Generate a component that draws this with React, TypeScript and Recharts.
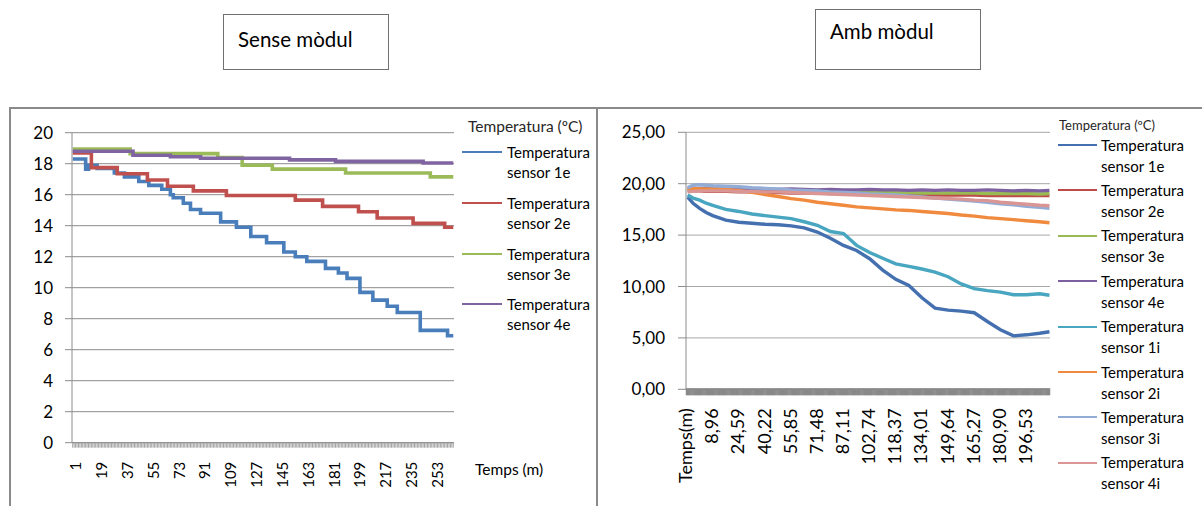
import React from "react";
import { LineChart, Line, XAxis, YAxis, CartesianGrid } from "recharts";

const FONT = "Lato, 'Open Sans', sans-serif";

// ---------- Sense mòdul: step readings as [sample, ºC] ----------
const sense1e: [number, number][] = [
  [1, 18.3], [10, 17.65], [12, 17.9], [18, 17.7], [30, 17.4], [37, 17.15],
  [47, 16.85], [54, 16.6], [63, 16.35], [69, 16.0], [71, 15.8], [78, 15.45],
  [83, 15.05], [90, 14.8], [104, 14.25], [115, 13.9], [125, 13.3], [136, 12.9],
  [148, 12.3], [156, 12.0], [164, 11.7], [177, 11.25], [186, 10.95], [192, 10.6],
  [201, 9.7], [210, 9.2], [220, 8.8], [227, 8.4], [243, 7.25], [262, 6.9], [266, 6.9],
];
const sense2e: [number, number][] = [
  [1, 18.7], [14, 17.75], [32, 17.35], [53, 16.95], [67, 16.55], [85, 16.25],
  [108, 15.95], [156, 15.65], [175, 15.25], [200, 14.9], [213, 14.5], [238, 14.15],
  [260, 13.9], [266, 13.9],
];
const sense3e: [number, number][] = [
  [1, 18.95], [41, 18.65], [102, 18.4], [119, 17.9], [140, 17.65], [191, 17.4],
  [250, 17.15], [266, 17.15],
];
const sense4e: [number, number][] = [
  [1, 18.8], [43, 18.55], [69, 18.45], [90, 18.35], [152, 18.25], [184, 18.15],
  [245, 18.05], [266, 18.05],
];
const senseSeries = [sense1e, sense2e, sense3e, sense4e];
const senseNames = [
  "Temperatura sensor 1e",
  "Temperatura sensor 2e",
  "Temperatura sensor 3e",
  "Temperatura sensor 4e",
];
const senseColors = ["#4a7ebb", "#c0504d", "#9bbb59", "#8064a2"];
const senseYTicks = [0, 2, 4, 6, 8, 10, 12, 14, 16, 18, 20];
const senseXLabels = [1, 19, 37, 55, 73, 91, 109, 127, 145, 163, 181, 199, 217, 235, 253];
const senseCount = 266;

// ---------- Amb mòdul: readings at sample indexes ----------
const ambSamples = [1, 6, 12, 18, 24, 36, 48, 60, 72, 84, 96, 108, 120, 132, 144, 156, 168, 180, 192, 204, 216, 228, 240, 252, 264, 276, 288, 300, 312, 324, 333];
const amb1e = [18.7, 18.1, 17.6, 17.2, 16.9, 16.45, 16.25, 16.15, 16.05, 16.0, 15.9, 15.7, 15.3, 14.7, 14.0, 13.5, 12.7, 11.6, 10.7, 10.1, 8.9, 7.9, 7.7, 7.6, 7.45, 6.6, 5.8, 5.2, 5.3, 5.45, 5.6];
const amb2e = [19.3, 19.3, 19.3, 19.25, 19.25, 19.25, 19.2, 19.2, 19.15, 19.15, 19.1, 19.1, 19.1, 19.05, 19.05, 19.0, 19.0, 19.0, 18.95, 18.95, 18.95, 18.9, 18.9, 18.9, 18.9, 18.85, 18.85, 18.85, 18.85, 18.85, 18.85];
const amb3e = [19.35, 19.4, 19.4, 19.35, 19.35, 19.35, 19.3, 19.3, 19.3, 19.25, 19.25, 19.25, 19.2, 19.2, 19.2, 19.2, 19.15, 19.15, 19.15, 19.15, 19.1, 19.1, 19.1, 19.1, 19.1, 19.05, 19.05, 19.05, 19.05, 19.0, 19.05];
const amb4e = [19.5, 19.55, 19.5, 19.55, 19.5, 19.5, 19.45, 19.5, 19.45, 19.45, 19.5, 19.45, 19.4, 19.45, 19.4, 19.4, 19.45, 19.4, 19.4, 19.35, 19.4, 19.35, 19.4, 19.35, 19.35, 19.4, 19.35, 19.3, 19.35, 19.3, 19.35];
const amb1i = [18.9, 18.6, 18.4, 18.1, 17.9, 17.5, 17.3, 17.05, 16.9, 16.75, 16.6, 16.3, 15.95, 15.35, 15.15, 14.0, 13.3, 12.75, 12.2, 11.95, 11.7, 11.4, 10.95, 10.25, 9.8, 9.6, 9.45, 9.2, 9.2, 9.3, 9.15];
const amb2i = [19.55, 19.55, 19.5, 19.5, 19.5, 19.45, 19.35, 19.15, 18.95, 18.75, 18.55, 18.4, 18.2, 18.05, 17.9, 17.75, 17.65, 17.55, 17.45, 17.4, 17.3, 17.2, 17.1, 16.95, 16.85, 16.7, 16.6, 16.5, 16.4, 16.3, 16.2];
const amb3i = [19.6, 19.85, 19.9, 19.85, 19.8, 19.75, 19.7, 19.6, 19.55, 19.5, 19.4, 19.35, 19.3, 19.2, 19.15, 19.1, 19.0, 18.95, 18.9, 18.8, 18.7, 18.6, 18.5, 18.4, 18.3, 18.2, 18.05, 17.95, 17.8, 17.7, 17.6];
const amb4i = [19.2, 19.25, 19.3, 19.3, 19.3, 19.3, 19.25, 19.25, 19.2, 19.2, 19.15, 19.1, 19.05, 19.0, 18.95, 18.9, 18.85, 18.8, 18.75, 18.7, 18.65, 18.6, 18.55, 18.5, 18.4, 18.35, 18.2, 18.1, 18.0, 17.9, 17.85];
const ambSeries = [amb1e, amb2e, amb3e, amb4e, amb1i, amb2i, amb3i, amb4i];
const ambNames = [
  "Temperatura sensor 1e",
  "Temperatura sensor 2e",
  "Temperatura sensor 3e",
  "Temperatura sensor 4e",
  "Temperatura sensor 1i",
  "Temperatura sensor 2i",
  "Temperatura sensor 3i",
  "Temperatura sensor 4i",
];
const ambColors = ["#4570b0", "#be4b48", "#98b954", "#7d60a0", "#48a6c0", "#f08a3e", "#93acd6", "#d99694"];
const ambYTicks = [0, 5, 10, 15, 20, 25];
const ambXLabels = ["Temps(m)", "8,96", "24,59", "40,22", "55,85", "71,48", "87,11", "102,74", "118,37", "134,01", "149,64", "165,27", "180,90", "196,53"];
const ambLabelStep = 24;
const ambCount = 334;

const ambData = ambSamples.map((s, k) => {
  const row: Record<string, number> = { s };
  ambSeries.forEach((vals, i) => (row["s" + i] = vals[k]));
  return row;
});

const senseMinorTicks = Array.from({ length: senseCount }, (_, i) => i + 1);
const ambMinorTicks = Array.from({ length: ambCount }, (_, i) => i);

function SenseTick(props: any) {
  const { x, y, payload } = props;
  const v = payload.value;
  return (
    <g>
      <line x1={x} x2={x} y1={y} y2={y + 5} stroke="#a3a3a3" strokeWidth={1} />
      {senseXLabels.includes(v) && (
        <text
          transform={`translate(${x + 8.4},${y + 19}) rotate(-90)`}
          textAnchor="end"
          fontSize={15}
          fontFamily={FONT}
          fill="#000"
        >
          {v}
        </text>
      )}
    </g>
  );
}

function AmbTick(props: any) {
  const { x, y, payload } = props;
  const v = payload.value;
  const label = v % ambLabelStep === 0 ? ambXLabels[v / ambLabelStep] : null;
  return (
    <g>
      <line x1={x} x2={x} y1={y - 1} y2={y + 6} stroke="#898989" strokeWidth={1.6} />
      {label && (
        <text
          transform={`translate(${x + 5.5},${y + 19}) rotate(-90)`}
          textAnchor="end"
          fontSize={18}
          fontFamily={FONT}
          fill="#000"
        >
          {label}
        </text>
      )}
    </g>
  );
}

function LegendBox(props: {
  title: string;
  titleLeft: number;
  titleY: number;
  titleSize: number;
  names: string[];
  colors: string[];
  firstY: number;
  pitch: number;
  lineLeft: number;
  lineW: number;
  textLeft: number;
  lineH: number;
}) {
  const p = props;
  return (
    <>
      <div
        style={{
          position: "absolute",
          left: p.titleLeft,
          top: p.titleY - p.titleSize * 0.62,
          fontSize: p.titleSize,
          lineHeight: 1.2,
          color: "#262626",
          whiteSpace: "nowrap",
        }}
      >
        {p.title}
      </div>
      {p.names.map((n, i) => {
        const cy = p.firstY + i * p.pitch;
        return (
          <React.Fragment key={n}>
            <div
              style={{
                position: "absolute",
                left: p.lineLeft,
                top: cy - 1,
                width: p.lineW,
                height: 2,
                background: p.colors[i],
              }}
            />
            <div
              style={{
                position: "absolute",
                left: p.textLeft,
                top: cy - p.lineH / 2,
                width: 94,
                fontSize: 15,
                lineHeight: `${p.lineH}px`,
                color: "#000",
              }}
            >
              {n}
            </div>
          </React.Fragment>
        );
      })}
    </>
  );
}

const frame = "#8a8a8a";

export default function App() {
  return (
    <div
      style={{
        position: "absolute",
        left: 0,
        top: 0,
        width: 1202,
        height: 506,
        background: "#fff",
        fontFamily: FONT,
        overflow: "hidden",
      }}
    >
      {/* title boxes */}
      <div
        style={{
          position: "absolute",
          left: 223,
          top: 14,
          width: 164,
          height: 54,
          border: "1.5px solid #707070",
        }}
      >
        <div style={{ position: "absolute", left: 14, top: 12, fontSize: 20.5, color: "#000" }}>Sense mòdul</div>
      </div>
      <div
        style={{
          position: "absolute",
          left: 815,
          top: 9,
          width: 164,
          height: 59,
          border: "1.5px solid #707070",
        }}
      >
        <div style={{ position: "absolute", left: 14, top: 9, fontSize: 20.5, color: "#000" }}>Amb mòdul</div>
      </div>

      {/* panel frame */}
      <div style={{ position: "absolute", left: 9, top: 107, width: 1193, height: 2, background: frame }} />
      <div style={{ position: "absolute", left: 9, top: 107, width: 2, height: 399, background: frame }} />
      <div style={{ position: "absolute", left: 596, top: 107, width: 2, height: 399, background: frame }} />

      {/* left chart */}
      <div style={{ position: "absolute", left: 0, top: 0 }}>
        <LineChart width={600} height={506} margin={{ top: 132.7, right: 146, bottom: 33.3, left: 0 }}>
          <CartesianGrid vertical={false} stroke="#8c8c8c" />
          <XAxis
            dataKey="t"
            type="number"
            domain={[0.5, senseCount + 0.5]}
            allowDataOverflow
            ticks={senseMinorTicks}
            interval={0}
            tickLine={false}
            tickSize={0}
            tickMargin={0}
            height={30}
            axisLine={{ stroke: "#8c8c8c" }}
            tick={<SenseTick />}
          />
          <YAxis
            type="number"
            domain={[0, 20]}
            ticks={senseYTicks}
            interval={0}
            width={72}
            tickSize={7}
            tickMargin={12}
            axisLine={{ stroke: "#8c8c8c" }}
            tickLine={{ stroke: "#8c8c8c" }}
            tick={{ fill: "#000", fontSize: 17, fontFamily: FONT }}
          />
          {senseSeries.map((s, i) => (
            <Line
              key={senseNames[i]}
              name={senseNames[i]}
              data={s.map(([t, v]) => ({ t, v }))}
              dataKey="v"
              type="stepAfter"
              stroke={senseColors[i]}
              strokeWidth={3.6}
              dot={false}
              isAnimationActive={false}
            />
          ))}
        </LineChart>
      </div>
      <LegendBox
        title="Temperatura (ºC)"
        titleLeft={468}
        titleY={127}
        titleSize={15.5}
        names={senseNames}
        colors={senseColors}
        firstY={152.3}
        pitch={50.6}
        lineLeft={462}
        lineW={40}
        textLeft={507}
        lineH={20}
      />
      <div style={{ position: "absolute", left: 475, top: 460, fontSize: 15.5, color: "#000" }}>Temps (m)</div>

      {/* right chart */}
      <div style={{ position: "absolute", left: 600, top: 0 }}>
        <LineChart width={602} height={506} data={ambData} margin={{ top: 132.3, right: 152, bottom: 86.7, left: 0 }}>
          <CartesianGrid vertical={false} stroke="#a8a8a8" />
          <XAxis
            dataKey="s"
            type="number"
            domain={[-0.5, ambCount - 0.5]}
            allowDataOverflow
            ticks={ambMinorTicks}
            interval={0}
            tickLine={false}
            tickSize={0}
            tickMargin={0}
            height={30}
            axisLine={{ stroke: "#7f7f7f" }}
            tick={<AmbTick />}
          />
          <YAxis
            type="number"
            domain={[0, 25]}
            ticks={ambYTicks}
            interval={0}
            width={86}
            tickSize={8}
            tickMargin={13}
            axisLine={{ stroke: "#8c8c8c" }}
            tickLine={{ stroke: "#8c8c8c" }}
            tickFormatter={(v: number) => v.toFixed(2).replace(".", ",")}
            tick={{ fill: "#000", fontSize: 17, fontFamily: FONT }}
          />
          {ambSeries.map((_, i) => (
            <Line
              key={ambNames[i]}
              name={ambNames[i]}
              dataKey={"s" + i}
              type="linear"
              stroke={ambColors[i]}
              strokeWidth={3.4}
              dot={false}
              isAnimationActive={false}
            />
          ))}
        </LineChart>
      </div>
      <LegendBox
        title="Temperatura (ºC)"
        titleLeft={1059}
        titleY={126}
        titleSize={13}
        names={ambNames}
        colors={ambColors}
        firstY={145}
        pitch={45.4}
        lineLeft={1058}
        lineW={39}
        textLeft={1101}
        lineH={21}
      />
    </div>
  );
}
